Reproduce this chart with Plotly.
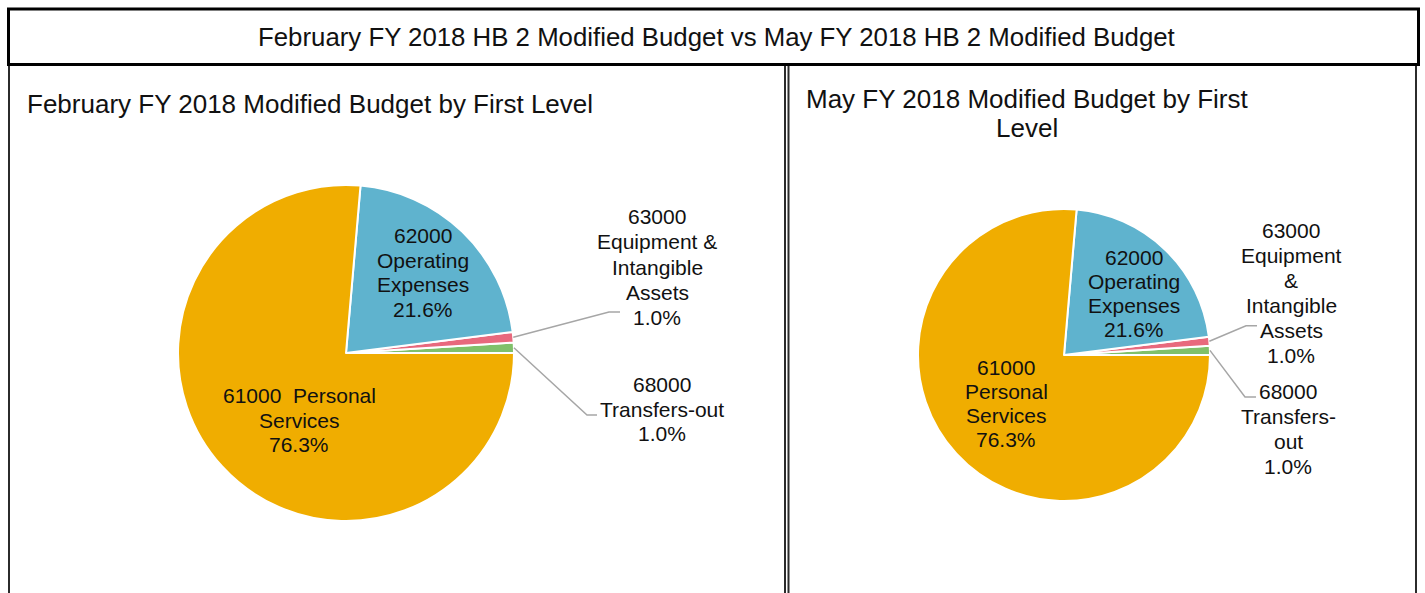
import math
import plotly.graph_objects as go

W, H = 1425, 593

# ---------------- data ----------------
categories = ["68000 Transfers-out", "63000 Equipment & Intangible Assets",
              "62000 Operating Expenses", "61000 Personal Services"]
codes = ["68000", "63000", "62000", "61000"]
feb_values = [1.0, 1.0, 21.6, 76.3]
may_values = [1.0, 1.0, 21.6, 76.3]
colors = ["#80C06A", "#E8697D", "#5FB3CE", "#F0AD00"]

header_title = "February FY 2018 HB 2 Modified Budget vs May FY 2018 HB 2 Modified Budget"
feb_title = "February FY 2018 Modified Budget by First Level"
may_title_lines = ["May FY 2018 Modified Budget by First", "Level"]

# label line splits (name parts) per panel
feb_name_lines = [["Transfers-out"], ["Equipment &", "Intangible", "Assets"],
                  ["Operating", "Expenses"], ["Services"]]
may_name_lines = [["Transfers-", "out"], ["Equipment", "&", "Intangible", "Assets"],
                  ["Operating", "Expenses"], ["Personal", "Services"]]

FONT = "Liberation Sans, Arial, sans-serif"
TXT = "#111111"


def px(x):
    return x / W


def py(y):
    return 1 - y / H


def label_lines(code, names, value, merge_first=False):
    pct = f"{value:.1f}%"
    if merge_first:
        return [code + "\u00a0\u00a0" + "Personal"] + names + [pct]
    return [code] + names + [pct]


fig = go.Figure()

# pie geometry (pixels): center & radius
pies = [
    dict(values=feb_values, cx=346, cy=353, r=168),
    dict(values=may_values, cx=1064, cy=355, r=146),
]

for p in pies:
    vals = p["values"]
    # plotly places the first slice clockwise of `rotation` when going
    # counterclockwise, so shift by the first slice so it starts at 3 o'clock
    rot = 90 - vals[0] / sum(vals) * 360
    fig.add_trace(go.Pie(
        labels=categories, values=vals, sort=False,
        direction="counterclockwise", rotation=rot,
        marker=dict(colors=colors, line=dict(color="white", width=2)),
        textinfo="none", hoverinfo="label+percent", showlegend=False,
        domain=dict(x=[px(p["cx"] - p["r"]), px(p["cx"] + p["r"])],
                    y=[py(p["cy"] + p["r"]), py(p["cy"] - p["r"])]),
    ))

shapes = []
annotations = []

# panel borders
shapes.append(dict(type="rect", xref="paper", yref="paper",
                   x0=px(9), x1=px(785), y0=py(64), y1=py(700),
                   line=dict(color="#2b2b2b", width=2), layer="above"))
shapes.append(dict(type="rect", xref="paper", yref="paper",
                   x0=px(788.5), x1=px(1416), y0=py(64), y1=py(700),
                   line=dict(color="#2b2b2b", width=2), layer="above"))
# header box
shapes.append(dict(type="rect", xref="paper", yref="paper",
                   x0=px(8.5), x1=px(1418.5), y0=py(9), y1=py(64.5),
                   line=dict(color="#000000", width=3), fillcolor="white",
                   layer="above"))


def add_text(lines, cx, cy, size, spacing, xanchor="center"):
    n = len(lines)
    for i, t in enumerate(lines):
        y = cy + (i - (n - 1) / 2) * spacing
        annotations.append(dict(
            x=px(cx), y=py(y), xref="paper", yref="paper", text=t,
            showarrow=False, xanchor=xanchor, yanchor="middle",
            font=dict(family=FONT, size=size, color=TXT)))


add_text([header_title], 716, 37, 25.8, 0)
add_text([feb_title], 25, 104, 26, 0, xanchor="left")
add_text(may_title_lines, 1027, 113.5, 26, 29)


def slice_mid_point(values, idx, cx, cy, r):
    total = sum(values)
    before = sum(values[:idx])
    ang = math.radians((before + values[idx] / 2) / total * 360)
    return cx + r * math.cos(ang), cy - r * math.sin(ang)


# ---- February labels ----
fv = feb_values
add_text(label_lines(codes[2], feb_name_lines[2], fv[2]), 423, 272.5, 21, 24.5)
add_text(label_lines(codes[3], feb_name_lines[3], fv[3], merge_first=True), 299, 420, 21, 24.5)
add_text(label_lines(codes[1], feb_name_lines[1], fv[1]), 657, 267, 21, 25.3)
add_text(label_lines(codes[0], feb_name_lines[0], fv[0]), 662, 409, 21, 24.5)

# ---- May labels ----
mv = may_values
add_text(label_lines(codes[2], may_name_lines[2], mv[2]), 1134, 293.5, 21, 24.3)
add_text(label_lines(codes[3], may_name_lines[3], mv[3]), 1006, 403.5, 21, 24.3)
add_text(label_lines(codes[1], may_name_lines[1], mv[1]), 1291, 293, 21, 25)
add_text(label_lines(codes[0], may_name_lines[0], mv[0]), 1288, 429, 21, 24.7)

# leader lines (start computed from slice geometry)
leaders = [
    (pies[0], 1, (609, 312), (620, 312)),
    (pies[0], 0, (587, 415), (597, 415)),
    (pies[1], 1, (1246, 325.7), (1257, 325.7)),
    (pies[1], 0, (1245, 397), (1256, 397)),
]
for p, idx, elbow, end in leaders:
    sx, sy = slice_mid_point(p["values"], idx, p["cx"], p["cy"], p["r"])
    path = (f"M {px(sx)},{py(sy)} L {px(elbow[0])},{py(elbow[1])} "
            f"L {px(end[0])},{py(end[1])}")
    shapes.append(dict(type="path", xref="paper", yref="paper", path=path,
                       line=dict(color="#A6A6A6", width=1.5)))

fig.update_layout(
    width=W, height=H,
    margin=dict(l=0, r=0, t=0, b=0),
    paper_bgcolor="white", plot_bgcolor="white",
    shapes=shapes, annotations=annotations,
    font=dict(family=FONT, color=TXT),
)

fig.write_html("out.html",
               config={"displayModeBar": False},
               post_script="document.body.style.margin='0';"
                           "document.body.style.overflow='hidden';")
